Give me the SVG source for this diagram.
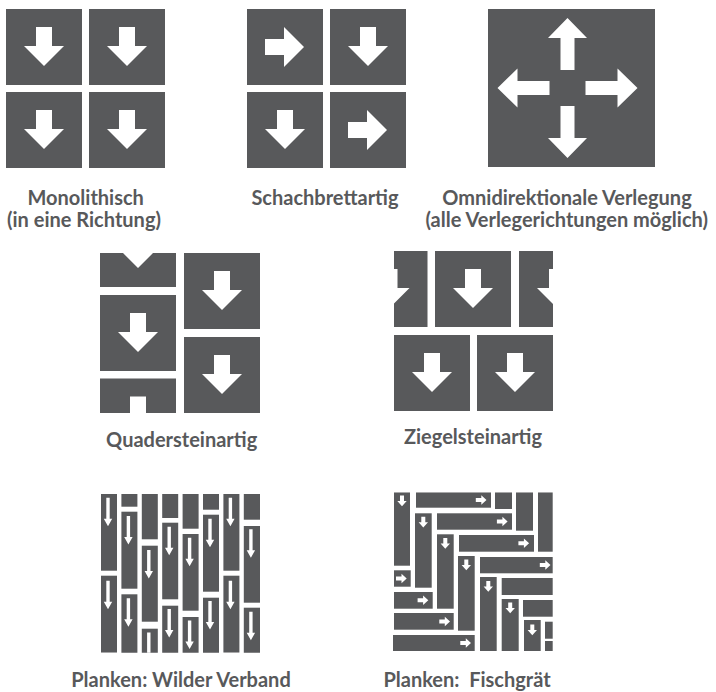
<svg xmlns="http://www.w3.org/2000/svg" xmlns:xlink="http://www.w3.org/1999/xlink" width="716" height="692" viewBox="0 0 716 692">
<style>
.t{fill:#58595b}
.a{fill:#ffffff}
.lbl{font-family:Lato,"Open Sans","Liberation Sans",sans-serif;font-weight:700;font-size:20px;fill:#58595b;text-anchor:middle}
</style>
<defs>
<path id="bd" d="M-8,-20H8V-1H20L0,19L-20,-1H-8Z"/>
<path id="ou" d="M-7,-18V-50H-19.5L0,-70L19.5,-50H7V-18Z"/>
<path id="pd" d="M-1.7,0H1.7V21H4.2L0,28.5L-4.2,21H-1.7Z"/>
<path id="fd" d="M-2,0H2V5.5H4.7L0,10.7L-4.7,5.5H-2Z"/>
<clipPath id="cq"><rect x="100" y="253" width="160" height="160"/></clipPath>
<clipPath id="cz"><rect x="394" y="251" width="159" height="160"/></clipPath>
<clipPath id="cw"><rect x="101" y="494" width="159" height="158.7"/></clipPath>
<clipPath id="cf"><rect x="393" y="492.3" width="159.7" height="158.7"/></clipPath>
</defs>
<rect width="716" height="692" fill="#ffffff"/>

<g id="monolithisch">
<rect class="t" x="6" y="9" width="76" height="76"/>
<rect class="t" x="89" y="9" width="76" height="76"/>
<rect class="t" x="6" y="92" width="76" height="76"/>
<rect class="t" x="89" y="92" width="76" height="76"/>
<use href="#bd" class="a" transform="translate(44,47)"/>
<use href="#bd" class="a" transform="translate(127,47)"/>
<use href="#bd" class="a" transform="translate(44,130)"/>
<use href="#bd" class="a" transform="translate(127,130)"/>
<text class="lbl" x="85.7" y="205">Monolithisch</text>
<text class="lbl" x="84" y="227">(in eine Richtung)</text>
</g>

<g id="schachbrett">
<rect class="t" x="247" y="9" width="76" height="76"/>
<rect class="t" x="330" y="9" width="76" height="76"/>
<rect class="t" x="247" y="92" width="76" height="76"/>
<rect class="t" x="330" y="92" width="76" height="76"/>
<use href="#bd" class="a" transform="translate(285,47) rotate(-90)"/>
<use href="#bd" class="a" transform="translate(368,47)"/>
<use href="#bd" class="a" transform="translate(285,130)"/>
<use href="#bd" class="a" transform="translate(368,130) rotate(-90)"/>
<text class="lbl" x="325" y="205">Schachbrettartig</text>
</g>

<g id="omnidirektional">
<rect class="t" x="488" y="9" width="167" height="158"/>
<use href="#ou" class="a" transform="translate(567.5,88)"/>
<use href="#ou" class="a" transform="translate(567.5,88) rotate(90)"/>
<use href="#ou" class="a" transform="translate(567.5,88) rotate(180)"/>
<use href="#ou" class="a" transform="translate(567.5,88) rotate(270)"/>
<text class="lbl" x="567" y="205">Omnidirektionale Verlegung</text>
<text class="lbl" x="566.7" y="227">(alle Verlegerichtungen möglich)</text>
</g>

<g id="quaderstein">
<g clip-path="url(#cq)">
<rect class="t" x="100" y="211" width="76" height="76"/>
<rect class="t" x="100" y="295" width="76" height="76"/>
<rect class="t" x="100" y="378.5" width="76" height="76"/>
<rect class="t" x="184" y="253" width="76" height="76"/>
<rect class="t" x="184" y="337" width="76" height="76"/>
<use href="#bd" class="a" transform="translate(138,249)"/>
<use href="#bd" class="a" transform="translate(138,333)"/>
<use href="#bd" class="a" transform="translate(138,416.5)"/>
<use href="#bd" class="a" transform="translate(222,291)"/>
<use href="#bd" class="a" transform="translate(222,375)"/>
</g>
<text class="lbl" x="181.7" y="447">Quadersteinartig</text>
</g>

<g id="ziegelstein">
<g clip-path="url(#cz)">
<rect class="t" x="351.5" y="251" width="76" height="76"/>
<rect class="t" x="435" y="251" width="76" height="76"/>
<rect class="t" x="519" y="251" width="76" height="76"/>
<rect class="t" x="394" y="335" width="76" height="76"/>
<rect class="t" x="477" y="335" width="76" height="76"/>
<use href="#bd" class="a" transform="translate(389.5,289)"/>
<use href="#bd" class="a" transform="translate(473,289)"/>
<use href="#bd" class="a" transform="translate(557,289)"/>
<use href="#bd" class="a" transform="translate(432,373)"/>
<use href="#bd" class="a" transform="translate(515,373)"/>
</g>
<text class="lbl" x="473" y="444">Ziegelsteinartig</text>
</g>

<g id="wilder-verband">
<g clip-path="url(#cw)">
<rect class="t" x="101" y="494" width="16" height="76.7"/>
<rect class="t" x="101" y="575.7" width="16" height="77"/>
<rect class="t" x="121.4" y="490" width="16" height="16.7"/>
<rect class="t" x="121.4" y="511.7" width="16" height="77"/>
<rect class="t" x="121.4" y="594.3" width="16" height="77"/>
<rect class="t" x="141.8" y="462" width="16" height="77.3"/>
<rect class="t" x="141.8" y="545.7" width="16" height="76"/>
<rect class="t" x="141.8" y="628.7" width="16" height="77"/>
<rect class="t" x="162.2" y="441" width="16" height="77"/>
<rect class="t" x="162.2" y="522.7" width="16" height="76.6"/>
<rect class="t" x="162.2" y="605.7" width="16" height="77"/>
<rect class="t" x="182.6" y="451.7" width="16" height="77"/>
<rect class="t" x="182.6" y="534" width="16" height="76.7"/>
<rect class="t" x="182.6" y="617" width="16" height="77"/>
<rect class="t" x="203" y="432.7" width="16" height="77"/>
<rect class="t" x="203" y="514.7" width="16" height="77"/>
<rect class="t" x="203" y="597.7" width="16" height="77"/>
<rect class="t" x="223.4" y="494" width="16" height="76.7"/>
<rect class="t" x="223.4" y="575.7" width="16" height="77"/>
<rect class="t" x="243.8" y="442.7" width="16.2" height="77"/>
<rect class="t" x="243.8" y="526" width="16.2" height="76.7"/>
<rect class="t" x="243.8" y="607.7" width="16.2" height="77"/>
<use href="#pd" class="a" transform="translate(108,497.7)"/>
<use href="#pd" class="a" transform="translate(108,580.7)"/>
<use href="#pd" class="a" transform="translate(128.4,516)"/>
<use href="#pd" class="a" transform="translate(128.4,598.3)"/>
<use href="#pd" class="a" transform="translate(148.8,550)"/>
<use href="#pd" class="a" transform="translate(148.8,632.5)"/>
<use href="#pd" class="a" transform="translate(169.2,526.7)"/>
<use href="#pd" class="a" transform="translate(169.2,609)"/>
<use href="#pd" class="a" transform="translate(189.6,537.7)"/>
<use href="#pd" class="a" transform="translate(189.6,620.5)"/>
<use href="#pd" class="a" transform="translate(210,518.7)"/>
<use href="#pd" class="a" transform="translate(210,601)"/>
<use href="#pd" class="a" transform="translate(230.4,497.7)"/>
<use href="#pd" class="a" transform="translate(230.4,580.7)"/>
<use href="#pd" class="a" transform="translate(250.9,529.3)"/>
<use href="#pd" class="a" transform="translate(250.9,611.7)"/>
</g>
<text class="lbl" x="181" y="687">Planken: Wilder Verband</text>
</g>

<g id="fischgraet">
<g clip-path="url(#cf)">
<rect class="t" x="394" y="492.3" width="16" height="73.4"/>
<rect class="t" x="416" y="492.3" width="75" height="15.4"/>
<rect class="t" x="495" y="492.3" width="17" height="16.7"/>
<rect class="t" x="516" y="492.3" width="17" height="38.4"/>
<rect class="t" x="538" y="492.3" width="17" height="59.4"/>
<rect class="t" x="415" y="513.3" width="16.7" height="74.4"/>
<rect class="t" x="437" y="513.3" width="75" height="16.4"/>
<rect class="t" x="437" y="534.3" width="16.7" height="74.4"/>
<rect class="t" x="459" y="535" width="75" height="16.7"/>
<rect class="t" x="394" y="570.3" width="16.7" height="16.4"/>
<rect class="t" x="458" y="556" width="16.7" height="74.7"/>
<rect class="t" x="480" y="557" width="75" height="16.3"/>
<rect class="t" x="394" y="592" width="38.7" height="16.7"/>
<rect class="t" x="480" y="577" width="16.7" height="74"/>
<rect class="t" x="501.7" y="578" width="55" height="17"/>
<rect class="t" x="394" y="613" width="59.7" height="16.7"/>
<rect class="t" x="501.7" y="599" width="17" height="52"/>
<rect class="t" x="523" y="600" width="34" height="16.7"/>
<rect class="t" x="393" y="635" width="81.7" height="16"/>
<rect class="t" x="524" y="620" width="16.7" height="31"/>
<rect class="t" x="545" y="621.7" width="10" height="17"/>
<rect class="t" x="545" y="641" width="10" height="12"/>
<use href="#fd" class="a" transform="translate(402,495.5)"/>
<use href="#fd" class="a" transform="translate(475.8,500) rotate(-90)"/>
<use href="#fd" class="a" transform="translate(423.3,516.8)"/>
<use href="#fd" class="a" transform="translate(496.9,521.5) rotate(-90)"/>
<use href="#fd" class="a" transform="translate(445.3,538)"/>
<use href="#fd" class="a" transform="translate(518.4,543.3) rotate(-90)"/>
<use href="#fd" class="a" transform="translate(396,578.5) rotate(-90)"/>
<use href="#fd" class="a" transform="translate(466.3,559.5)"/>
<use href="#fd" class="a" transform="translate(539.8,565) rotate(-90)"/>
<use href="#fd" class="a" transform="translate(417.6,600.3) rotate(-90)"/>
<use href="#fd" class="a" transform="translate(488.3,581)"/>
<use href="#fd" class="a" transform="translate(439.3,621.5) rotate(-90)"/>
<use href="#fd" class="a" transform="translate(510.2,602.5)"/>
<use href="#fd" class="a" transform="translate(460.3,643) rotate(-90)"/>
<use href="#fd" class="a" transform="translate(532.3,624.5)"/>
</g>
<text class="lbl" x="467" y="687" xml:space="preserve">Planken:  Fischgrät</text>
</g>
</svg>
